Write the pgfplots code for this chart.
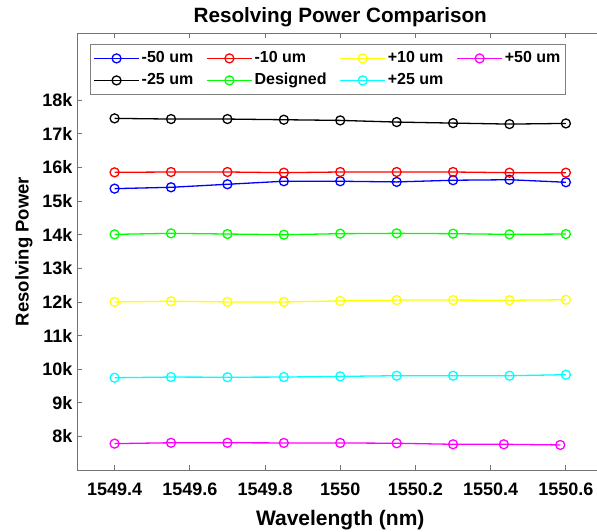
\documentclass[border=0pt]{standalone}
\usepackage{fontspec}
\setmainfont{Liberation Sans}
\usepackage{pgfplots}
\pgfplotsset{compat=1.18}
\definecolor{mcyan}{rgb}{0,1,1}
\definecolor{mmagenta}{rgb}{1,0,1}
\definecolor{mgreen}{rgb}{0,1,0}
\definecolor{myellow}{rgb}{1,1,0}

\pgfplotstableread{
x        m50    m25    m10    d      p10    p25
1549.40  15370  17460  15855  14010  12000  9745
1549.55  15410  17440  15865  14040  12020  9765
1549.70  15500  17440  15865  14020  12000  9760
1549.85  15590  17420  15845  14000  12000  9765
1550.00  15590  17400  15865  14030  12030  9785
1550.15  15570  17350  15865  14040  12055  9805
1550.30  15620  17320  15865  14030  12055  9805
1550.45  15635  17290  15845  14010  12050  9805
1550.60  15560  17310  15845  14020  12065  9835
}\datatable

\pgfplotstableread{
x         p50
1549.40   7785
1549.55   7810
1549.70   7810
1549.85   7805
1550.00   7805
1550.15   7795
1550.30   7765
1550.435  7765
1550.585  7745
}\magtable

\begin{document}
\begin{tikzpicture}
\useasboundingbox (-77pt,-61pt) rectangle (520pt,470pt);
\clip (-77pt,-61pt) rectangle (520pt,470pt);
\begin{axis}[
  at={(0pt,0pt)}, anchor=south west,
  scale only axis, width=526.5pt, height=437pt,
  xmin=1549.3, xmax=1550.7, ymin=7000, ymax=20000,
  scaled y ticks=false, scaled x ticks=false,
  xtick={1549.4,1549.6,1549.8,1550,1550.2,1550.4,1550.6},
  xticklabels={1549.4,1549.6,1549.8,1550,1550.2,1550.4,1550.6},
  ytick={8000,9000,10000,11000,12000,13000,14000,15000,16000,17000,18000},
  yticklabels={8k,9k,10k,11k,12k,13k,14k,15k,16k,17k,18k},
  /pgf/number format/assume math mode=true,
  tick align=inside, xtick pos=both, ytick pos=left,
  major tick length=5pt,
  every tick/.style={black!55, line width=0.8pt},
  axis line style={black!55, line width=0.8pt},
  ticklabel style={font=\fontsize{18}{20}\selectfont\bfseries},
  yticklabel style={xshift=-1pt},
  xticklabel style={yshift=-9pt},
  title={Resolving Power Comparison},
  title style={font=\fontsize{20.7}{24}\selectfont\bfseries, yshift=-3pt},
  xlabel={Wavelength (nm)},
  ylabel={Resolving Power},
  xlabel style={font=\fontsize{21}{24}\selectfont\bfseries},
  xlabel shift=8pt,
  ylabel shift=3pt,
  ylabel style={font=\fontsize{18.5}{22}\selectfont\bfseries},
  every axis plot/.append style={line width=1.3pt, mark=o, mark size=4.5pt, mark options={line width=1.3pt}},
  legend columns=4,
  legend style={at={(axis description cs:0.0247,0.9748)}, anchor=north west,
    draw=black!50, line width=0.8pt, inner xsep=3pt, inner ysep=3pt,
    font=\fontsize{16}{19}\selectfont\bfseries,
    nodes={inner ysep=3.5pt, text height=11.5pt, text depth=3.5pt},
    /tikz/every even column/.append style={column sep=11pt}},
  legend cell align=left,
  legend image code/.code={\draw[mark repeat=2,mark phase=2,#1] plot coordinates {(0pt,0pt) (22.5pt,0pt) (45pt,0pt)};},
]
\addplot[blue] table[x=x,y=m50] {\datatable};
\addlegendentry{-50 um}
\addplot[red] table[x=x,y=m10] {\datatable};
\addlegendentry{-10 um}
\addplot[myellow] table[x=x,y=p10] {\datatable};
\addlegendentry{+10 um}
\addplot[mmagenta] table[x=x,y=p50] {\magtable};
\addlegendentry{+50 um}
\addplot[black] table[x=x,y=m25] {\datatable};
\addlegendentry{-25 um}
\addplot[mgreen] table[x=x,y=d] {\datatable};
\addlegendentry{Designed}
\addplot[mcyan] table[x=x,y=p25] {\datatable};
\addlegendentry{+25 um}
\end{axis}
\end{tikzpicture}
\end{document}
